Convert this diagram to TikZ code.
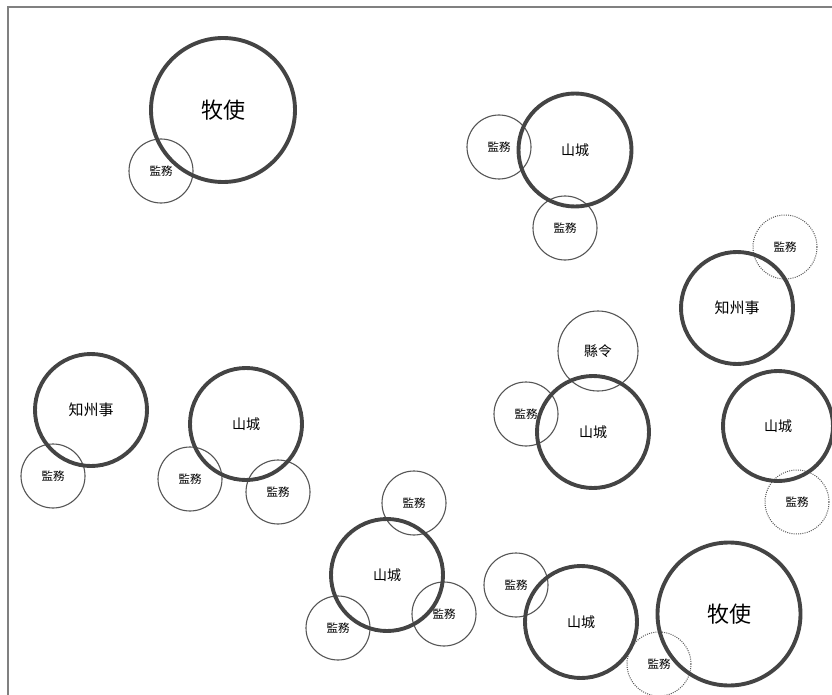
\documentclass[tikz,border=0pt]{standalone}
\usepackage{fontspec}
\newfontfamily\cjk{Noto Sans CJK TC}
\usepackage{xcolor}
\usetikzlibrary{positioning}
\definecolor{ring}{HTML}{444444}
\definecolor{thinring}{HTML}{555555}
\tikzset{
    big node/.style={circle,draw=ring,line width=3.9pt,inner sep=0pt,font=\cjk\fontsize{14}{14}\selectfont},
    small node/.style={circle,draw=thinring,line width=1.1pt,inner sep=0pt,minimum size=64pt,font=\cjk\fontsize{11.5}{12}\selectfont},
    dot node/.style={small node,draw=thinring,dash pattern=on 1pt off 1.2pt,line width=1pt},
}

\begin{document}
\begin{tikzpicture}[x=1pt,y=-1pt]
                \useasboundingbox (0,0) rectangle (832,695);
                \draw[gray,line width=1.3pt] (8,695) -- (8,7) -- (832,7);

                % offices
                \node[small node] (j1) at (161,171){監務};
                \node[small node] (j2) at (499,147){監務};
                \node[small node] (j3) at (565,228){監務};
                \node[dot node] (j4) at (785,247){監務};
                \node[small node,minimum size=80pt,font=\cjk\fontsize{14}{14}\selectfont] (x1) at (598,351){縣令};
                \node[small node] (j5) at (526,414){監務};
                \node[dot node] (j6) at (797,502){監務};
                \node[small node] (j7) at (53,476){監務};
                \node[small node] (j8) at (190,479){監務};
                \node[small node] (j9) at (278,492){監務};
                \node[small node] (j10) at (414,503){監務};
                \node[small node] (j11) at (338,628){監務};
                \node[small node] (j12) at (444,614){監務};
                \node[small node] (j13) at (516,585){監務};
                \node[dot node] (j14) at (659,664){監務};

                % seats
                \node[big node,minimum size=144pt,font=\cjk\fontsize{22}{22}\selectfont] (m1) at (223,110){牧使};
                \node[big node,minimum size=113pt] (s1) at (575,150){山城};
                \node[big node,minimum size=112pt,font=\cjk\fontsize{15}{15}\selectfont] (z1) at (737,308){知州事};
                \node[big node,minimum size=112pt] (s2) at (593,432){山城};
                \node[big node,minimum size=110pt] (s3) at (778,426){山城};
                \node[big node,minimum size=112pt,font=\cjk\fontsize{15}{15}\selectfont] (z2) at (91,410){知州事};
                \node[big node,minimum size=112pt] (s4) at (246,424){山城};
                \node[big node,minimum size=112pt] (s5) at (387,575){山城};
                \node[big node,minimum size=112pt] (s6) at (581,622){山城};
                \node[big node,minimum size=143pt,font=\cjk\fontsize{22}{22}\selectfont] (m2) at (729,614){牧使};
            \end{tikzpicture}
\end{document}
